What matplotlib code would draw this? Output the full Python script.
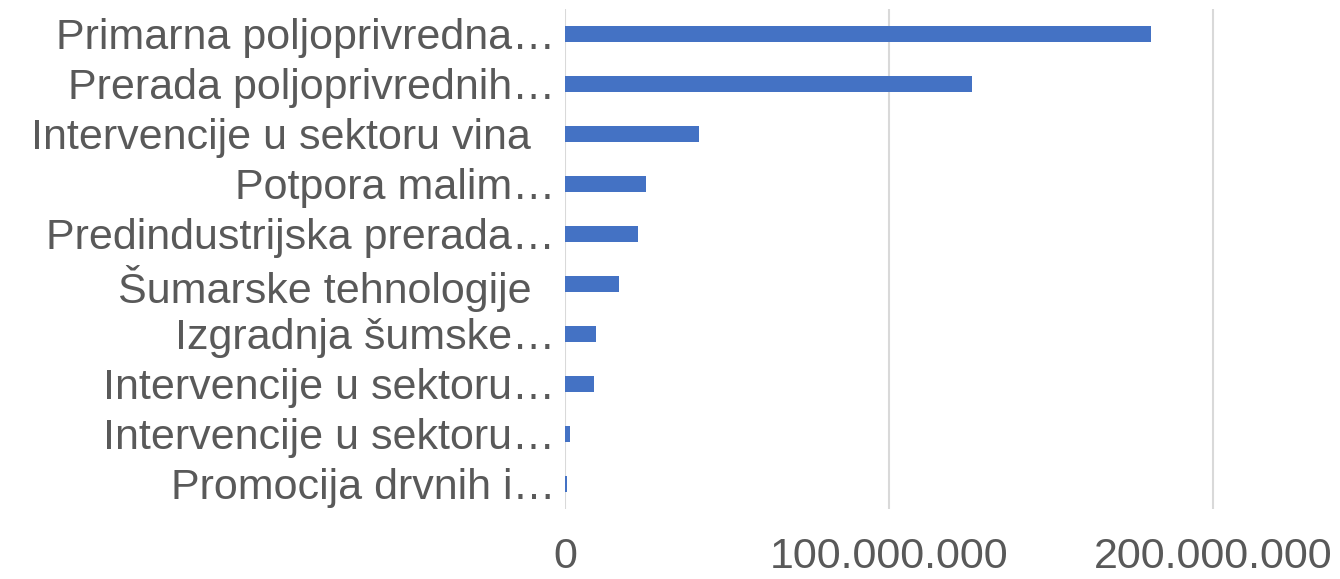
import matplotlib
matplotlib.use("Agg")
import matplotlib.pyplot as plt
from matplotlib.ticker import FuncFormatter

categories = [
    "Primarna poljoprivredna…",
    "Prerada poljoprivrednih…",
    "Intervencije u sektoru vina  ",
    "Potpora malim…",
    "Predindustrijska prerada…",
    "Šumarske tehnologije  ",
    "Izgradnja šumske…",
    "Intervencije u sektoru…",
    "Intervencije u sektoru…",
    "Promocija drvnih i…",
]
values = [180.9e6, 125.6e6, 41.4e6, 25.0e6, 22.5e6, 16.7e6, 9.6e6, 9.0e6, 1.5e6, 0.6e6]
xticks = [0, 100e6, 200e6]

plt.rcParams['font.family'] = ['Liberation Sans', 'DejaVu Sans']

fig = plt.figure(figsize=(13.4, 5.79), dpi=100)
ax = fig.add_axes([565/1340, 1 - 509/579, 1 - 565/1340, 500/579])

ypos = list(range(len(categories)))
ax.barh(ypos, values, height=0.33, color="#4472C4", zorder=3)
ax.set_ylim(len(categories) - 0.5, -0.5)
ax.set_xlim(0, (1340 - 565) / 324 * 100e6)
ax.set_yticks(ypos)
ax.set_yticklabels(categories, fontsize=31, color="#595959")
ax.set_xticks(xticks)
ax.xaxis.set_major_formatter(FuncFormatter(lambda v, p: f"{int(v):,}".replace(",", ".")))
ax.tick_params(axis='x', labelsize=31, colors="#595959", length=0, pad=20)
ax.tick_params(axis='y', length=0, pad=7)
ax.grid(axis='x', color="#D9D9D9", linewidth=1.5, zorder=0)
for s in ax.spines.values():
    s.set_visible(False)

fig.savefig("out.png", dpi=100)
